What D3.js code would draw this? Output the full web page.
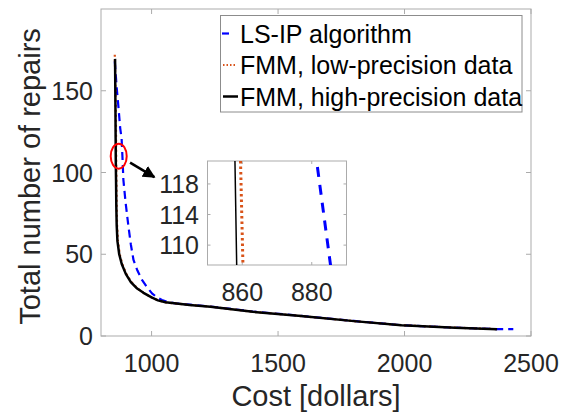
<!DOCTYPE html>
<html>
<head>
<script src="https://cdnjs.cloudflare.com/ajax/libs/d3/7.8.5/d3.min.js"></script>
<style>
  body { margin: 0; background: #fff; }
  svg { font-family: "Liberation Sans", Arial, sans-serif; }
</style>
</head>
<body>
<div id="vis"></div>
<script>
// series values: [cost, repairs]
const lsipData = [
  [854.5, 168], [862, 152], [869, 140], [876, 127], [881.4, 121], [885.4, 107.4],
  [888.5, 95.5], [897, 82], [908.5, 67], [918, 56], [928.5, 46.5], [944, 40],
  [962, 34.3], [981, 30], [1001.5, 26.1], [1020, 23.8], [1041, 22], [1065, 20.8],
  [1094, 20], [1160, 19], [1233, 18], [1400, 15], [1591, 12.3], [1800, 9.2],
  [1988, 6.6], [2200, 5.1], [2366, 4.2], [2430, 4.2]
];
const fmmLowData = [
  [854.5, 172], [857, 152], [858.8, 135], [859.5, 121], [860.2, 107.4], [861, 95],
  [862, 80], [863.5, 68], [867, 58], [874, 50], [884, 44], [900, 38], [920, 33],
  [945, 29], [970, 26.2], [1000, 23.6], [1025, 21.8], [1055, 20.6], [1090, 20],
  [1150, 19], [1233, 17.9], [1400, 14.8], [1591, 12.2], [1800, 9.1],
  [1988, 6.6], [2200, 5.1], [2366, 4.2]
];
const fmmHighData = [
  [855.6, 169.5], [856.5, 152], [857.3, 135], [857.9, 121], [858.4, 107.4], [859.5, 95],
  [860.5, 80], [862, 68], [865, 58], [872, 50], [882, 44], [898, 38], [918, 33],
  [943, 29], [968, 26.4], [1000, 23.6], [1025, 21.8], [1055, 20.6], [1090, 20],
  [1150, 19], [1233, 17.9], [1400, 14.8], [1591, 12.2], [1800, 9.1],
  [1988, 6.6], [2200, 5.1], [2366, 4.2]
];
const seriesNames = ["LS-IP algorithm", "FMM, low-precision data", "FMM, high-precision data"];
const xTicks = [1000, 1500, 2000, 2500];
const yTicks = [0, 50, 100, 150];
const insetXTicks = [860, 880];
const insetYTicks = [110, 114, 118];
// zoom marker (ellipse centre) and arrow, in data units
const markCenter = [870, 110];
const arrowFrom = [915, 106];
const arrowTo = [1011, 97.2];

const W = 571, H = 415;
const svg = d3.select("#vis").append("svg").attr("width", W).attr("height", H);

const defs = svg.append("defs");
defs.append("marker").attr("id", "head")
  .attr("viewBox", "0 0 10 10").attr("refX", 9).attr("refY", 5)
  .attr("markerWidth", 5).attr("markerHeight", 5).attr("orient", "auto")
  .attr("markerUnits", "strokeWidth")
  .append("path").attr("d", "M0,0 L10,5 L0,10 z").attr("fill", "#000");

const styles = [
  {color: "#0000ff", width: 2.2, dash: "8,5"},
  {color: "#d95319", width: 2.2, dash: "2,3"},
  {color: "#000000", width: 2.5, dash: null}
];
const allData = [lsipData, fmmLowData, fmmHighData];

const axisColor = "#ababab";
const textColor = "#262626";

// ---------- main axes ----------
const M = {left: 101, right: 531, top: 9, bottom: 336};
const x = d3.scaleLinear().domain([800, 2500]).range([M.left, M.right]);
const y = d3.scaleLinear().domain([0, 200]).range([M.bottom, M.top]);

function frame(g, xs, ys, xt, yt, tl) {
  const [x0, x1] = xs.range(), [y0, y1] = ys.range();
  g.append("rect").attr("x", x0).attr("y", y1).attr("width", x1 - x0).attr("height", y0 - y1)
    .attr("fill", "#fff").attr("stroke", axisColor).attr("stroke-width", 1);
  xt.forEach(t => {
    g.append("line").attr("x1", xs(t)).attr("x2", xs(t)).attr("y1", y0).attr("y2", y0 - tl).attr("stroke", axisColor);
    g.append("line").attr("x1", xs(t)).attr("x2", xs(t)).attr("y1", y1).attr("y2", y1 + tl).attr("stroke", axisColor);
  });
  yt.forEach(t => {
    g.append("line").attr("x1", x0).attr("x2", x0 + tl).attr("y1", ys(t)).attr("y2", ys(t)).attr("stroke", axisColor);
    g.append("line").attr("x1", x1).attr("x2", x1 - tl).attr("y1", ys(t)).attr("y2", ys(t)).attr("stroke", axisColor);
  });
}

const main = svg.append("g");
frame(main, x, y, xTicks, yTicks, 5);

main.selectAll("text.xt").data(xTicks).join("text")
  .attr("x", d => x(d)).attr("y", 372).attr("text-anchor", "middle")
  .attr("font-size", 25).attr("fill", textColor).text(d => d);
main.selectAll("text.yt").data(yTicks).join("text")
  .attr("x", 93).attr("y", d => y(d) + 9).attr("text-anchor", "end")
  .attr("font-size", 25).attr("fill", textColor).text(d => d);

main.append("text").attr("x", (M.left + M.right) / 2).attr("y", 406)
  .attr("text-anchor", "middle").attr("font-size", 29).attr("fill", textColor)
  .text("Cost [dollars]");
main.append("text").attr("transform", `translate(40,${(M.top + M.bottom) / 2 + 4}) rotate(-90)`)
  .attr("text-anchor", "middle").attr("font-size", 29).attr("fill", textColor)
  .text("Total number of repairs");

const plot = main.append("g");
allData.forEach((data, i) => {
  plot.append("path").datum(data)
    .attr("d", d3.line().x(d => x(d[0])).y(d => y(d[1])))
    .attr("fill", "none").attr("stroke", styles[i].color)
    .attr("stroke-width", styles[i].width)
    .attr("stroke-dasharray", styles[i].dash)
    .attr("stroke-linejoin", "round");
});

// marker ellipse + arrow
main.append("ellipse").attr("cx", x(markCenter[0])).attr("cy", y(markCenter[1]))
  .attr("rx", 8).attr("ry", 12.5).attr("fill", "none").attr("stroke", "#ff0000").attr("stroke-width", 2);
main.append("line").attr("x1", x(arrowFrom[0])).attr("y1", y(arrowFrom[1]))
  .attr("x2", x(arrowTo[0])).attr("y2", y(arrowTo[1]))
  .attr("stroke", "#000").attr("stroke-width", 2.5).attr("marker-end", "url(#head)");

// ---------- legend ----------
const leg = svg.append("g");
leg.append("rect").attr("x", 220.5).attr("y", 15.5).attr("width", 301.5).attr("height", 96.5)
  .attr("fill", "#fff").attr("stroke", "#8c8c8c").attr("stroke-width", 1);
const legY = [33.5, 65, 96.5];
const legLine = [[222, 229], [223, 237], [223, 238]];
seriesNames.forEach((name, i) => {
  leg.append("line").attr("x1", legLine[i][0]).attr("x2", legLine[i][1])
    .attr("y1", legY[i]).attr("y2", legY[i])
    .attr("stroke", styles[i].color).attr("stroke-width", styles[i].width)
    .attr("stroke-dasharray", i === 1 ? "1.5,2" : null);
  leg.append("text").attr("x", 240).attr("y", legY[i] + 9)
    .attr("font-size", 25).attr("fill", "#000").text(name);
});

// ---------- inset ----------
const ix = d3.scaleLinear().domain([850, 890]).range([207.5, 346.5]);
const iy = d3.scaleLinear().domain([107.4, 121]).range([265, 161]);
const inset = svg.append("g");
frame(inset, ix, iy, insetXTicks, insetYTicks, 3);
inset.selectAll("text.ixt").data(insetXTicks).join("text")
  .attr("x", d => ix(d)).attr("y", 301).attr("text-anchor", "middle")
  .attr("font-size", 25).attr("fill", textColor).text(d => d);
inset.selectAll("text.iyt").data(insetYTicks).join("text")
  .attr("x", 199).attr("y", d => iy(d) + 9).attr("text-anchor", "end")
  .attr("font-size", 25).attr("fill", textColor).text(d => d);

inset.append("clipPath").attr("id", "iclip").append("rect")
  .attr("x", 207.5).attr("y", 161).attr("width", 139).attr("height", 104);
const insetStyles = [
  {width: 3, dash: "10,8"},
  {width: 3, dash: "2.5,3"},
  {width: 1.5, dash: null}
];
allData.forEach((data, i) => {
  inset.append("path").datum(data)
    .attr("clip-path", "url(#iclip)")
    .attr("d", d3.line().x(d => ix(d[0])).y(d => iy(d[1])))
    .attr("fill", "none").attr("stroke", styles[i].color)
    .attr("stroke-width", insetStyles[i].width)
    .attr("stroke-dasharray", insetStyles[i].dash);
});
</script>
</body>
</html>
